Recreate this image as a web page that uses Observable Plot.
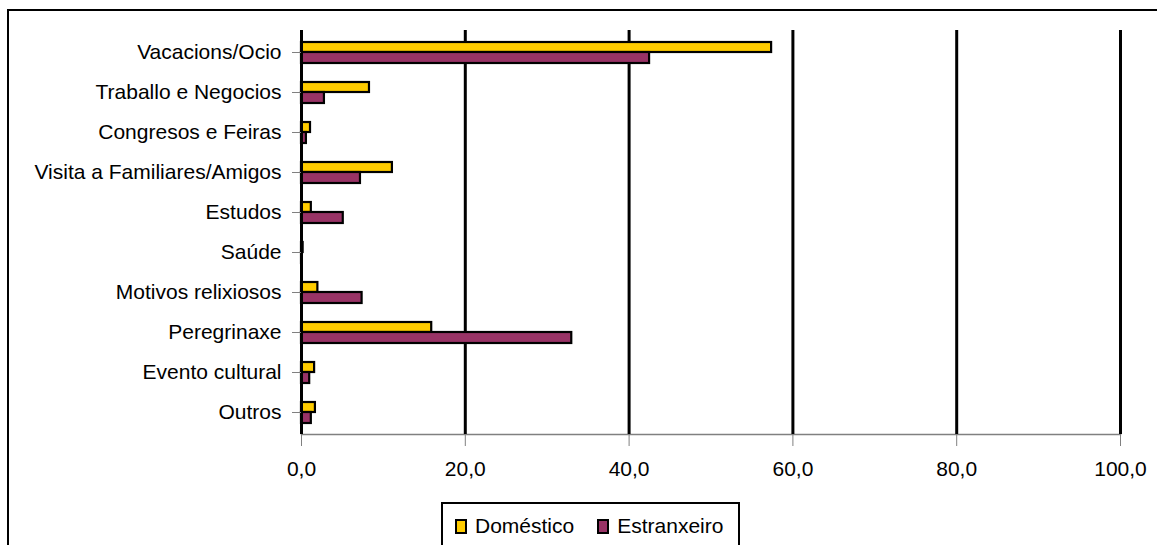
<!DOCTYPE html>
<html>
<head>
<meta charset="utf-8">
<script src="https://cdn.jsdelivr.net/npm/d3@7"></script>
<script src="https://cdn.jsdelivr.net/npm/@observablehq/plot@0.6"></script>
<style>
  html, body { margin: 0; padding: 0; background: #fff; }
  #wrap { position: relative; width: 1157px; height: 545px; overflow: hidden; font-family: "Liberation Sans", Arial, sans-serif; }
  #border { position: absolute; left: 7px; top: 9px; width: 1200px; height: 600px; border: 2px solid #000; box-sizing: border-box; pointer-events: none; }
  #chart { position: absolute; left: 0; top: 0; }
  #legend { position: absolute; left: 441px; top: 502px; width: 299px; height: 60px; border: 2px solid #000; box-sizing: border-box; background: #fff; display: flex; align-items: flex-start; padding: 10px 0 0 12px; font-size: 21px; color: #000; }
  .item { display: flex; align-items: center; margin-right: 23px; }
  .sw { width: 12px; height: 15px; border: 2px solid #000; box-sizing: border-box; margin-right: 8px; }
</style>
</head>
<body>
<div id="wrap">
  <div id="chart"></div>
  <div id="border"></div>
  <div id="legend"></div>
</div>
<script>
const categories = ["Vacacions/Ocio", "Traballo e Negocios", "Congresos e Feiras", "Visita a Familiares/Amigos", "Estudos", "Saúde", "Motivos relixiosos", "Peregrinaxe", "Evento cultural", "Outros"];
const domestico   = [57.4, 8.3, 1.1, 11.1, 1.2, 0.2, 2.0, 15.9, 1.6, 1.7];
const estranxeiro = [42.5, 2.8, 0.6, 7.2, 5.1, 0.1, 7.4, 33.0, 1.0, 1.2];
const seriesNames = ["Doméstico", "Estranxeiro"];
const seriesColors = ["#FFCC00", "#993366"];
const xTicks = [0, 20, 40, 60, 80, 100];

const dataDom = categories.map((c, i) => ({cat: c, value: domestico[i]}));
const dataEst = categories.map((c, i) => ({cat: c, value: estranxeiro[i]}));
const fmt = d => d.toFixed(1).replace(".", ",");

const chart = Plot.plot({
  width: 1157,
  height: 545,
  marginLeft: 301,
  marginRight: 37,
  marginTop: 30,
  marginBottom: 111,
  style: {fontFamily: "'Liberation Sans', Arial, sans-serif", fontSize: "21px", color: "#000", background: "transparent"},
  x: {domain: [0, 100]},
  y: {domain: categories, padding: 0},
  marks: [
    Plot.frame({anchor: "bottom", stroke: "#808080", strokeWidth: 1.5}),
    Plot.ruleX(xTicks.slice(1), {stroke: "#000", strokeWidth: 3}),
    Plot.barX(dataDom, {y: "cat", x: "value", fill: seriesColors[0], stroke: "#000", strokeWidth: 2.2, insetTop: 10, insetBottom: 20}),
    Plot.barX(dataEst, {y: "cat", x: "value", fill: seriesColors[1], stroke: "#000", strokeWidth: 2.2, insetTop: 20, insetBottom: 9}),
    Plot.ruleX([0], {stroke: "#000", strokeWidth: 3}),
    Plot.axisY({tickSize: 9, tickPadding: 11, stroke: "#808080", fill: "#000", label: null}),
    Plot.axisX({ticks: xTicks, tickFormat: fmt, tickSize: 12, tickPadding: 15, stroke: "#808080", fill: "#000", label: null})
  ]
});
document.getElementById("chart").appendChild(chart);

const legend = document.getElementById("legend");
seriesNames.forEach((name, i) => {
  const it = document.createElement("div");
  it.className = "item";
  const sw = document.createElement("div");
  sw.className = "sw";
  sw.style.background = seriesColors[i];
  const t = document.createElement("span");
  t.textContent = name;
  it.appendChild(sw);
  it.appendChild(t);
  legend.appendChild(it);
});
</script>
</body>
</html>
